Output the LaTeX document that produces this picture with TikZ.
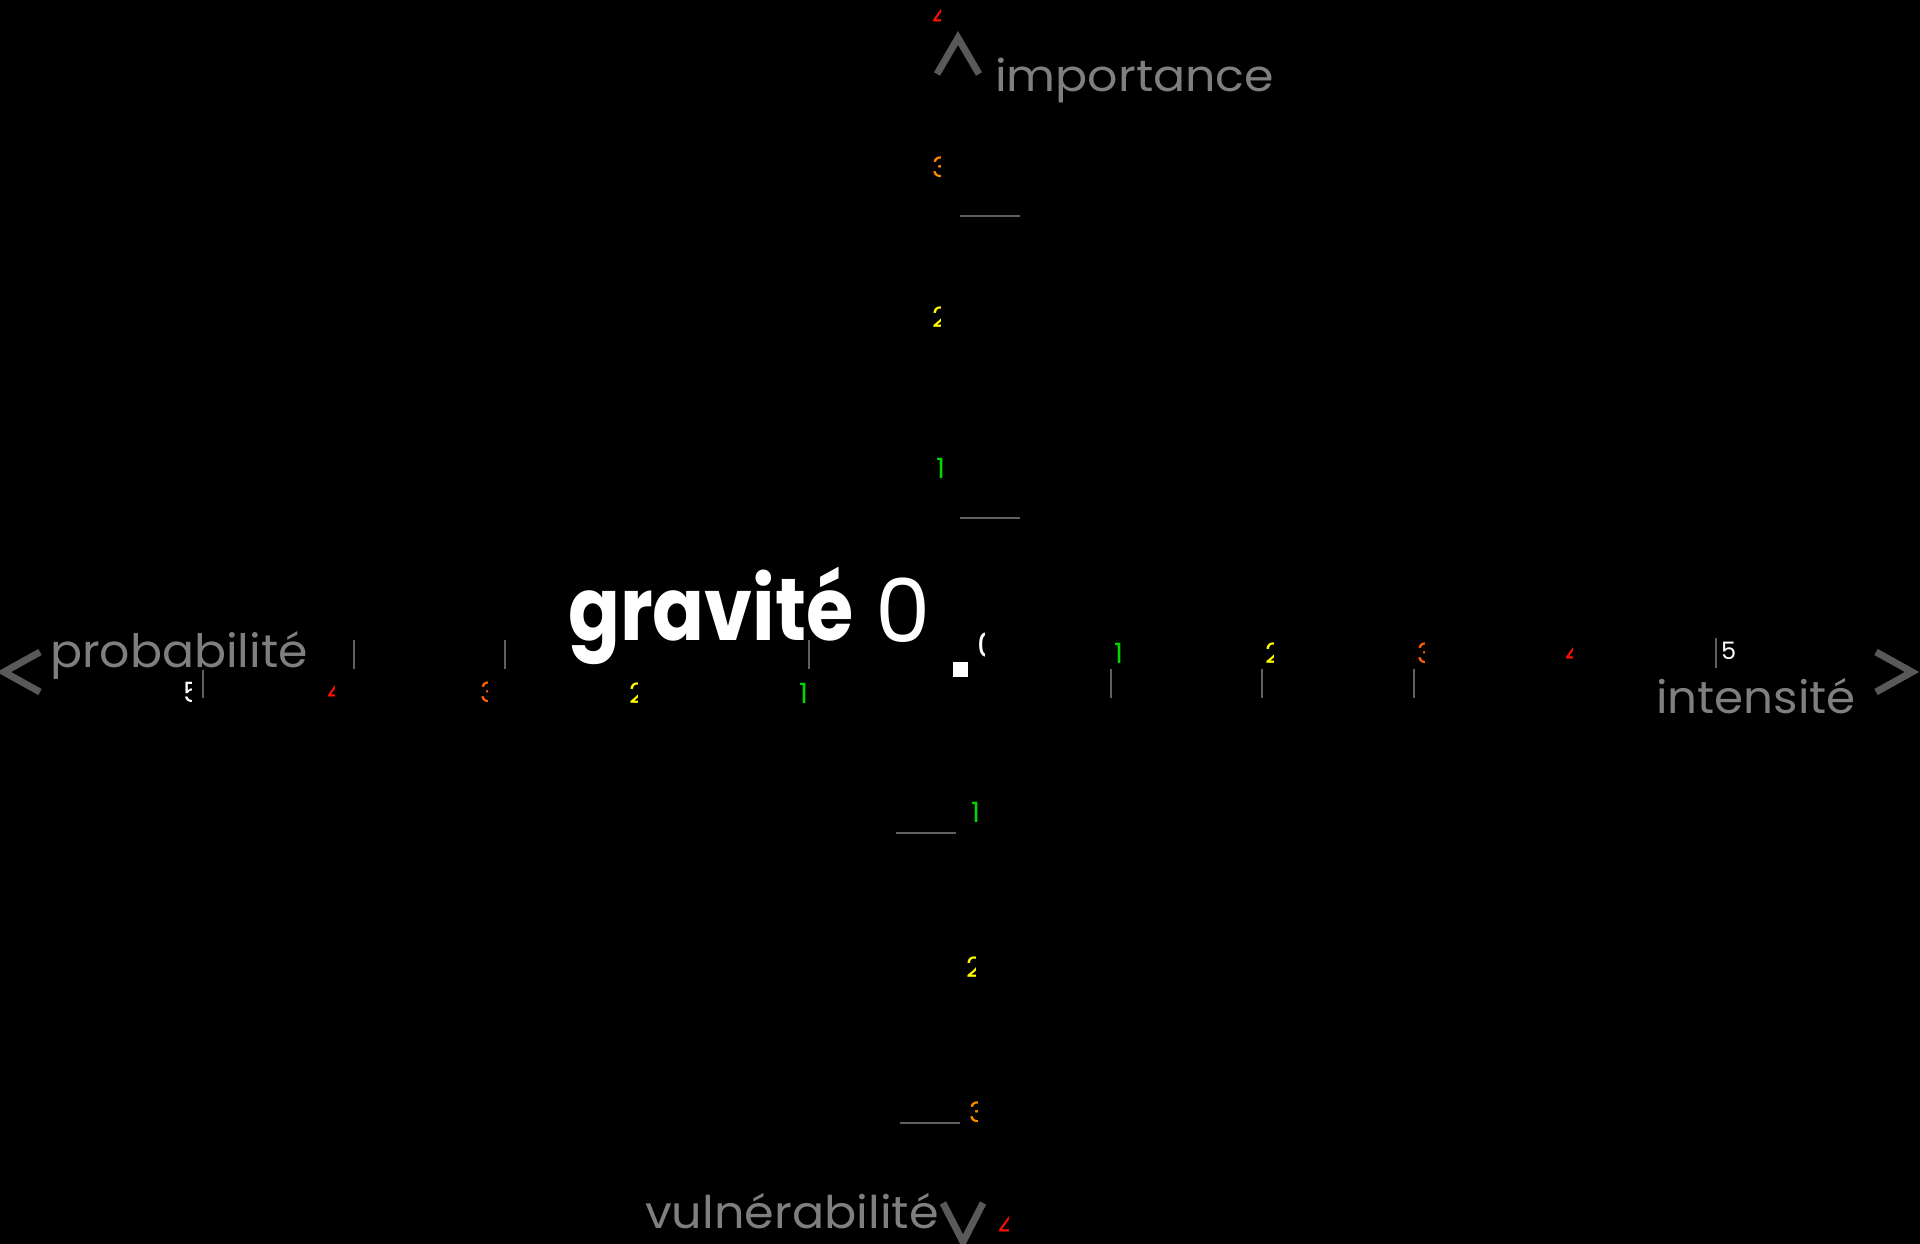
\documentclass[tikz,border=0pt]{standalone}
\usepackage{fontspec}
\setmainfont{Poppins}
\definecolor{axtext}{HTML}{7F7F7F}
\definecolor{chev}{HTML}{595959}
\definecolor{tickc}{HTML}{606060}
\definecolor{dgreen}{HTML}{00D800}
\definecolor{dyellow}{HTML}{FFFF00}
\definecolor{dorange}{HTML}{FF8C00}
\definecolor{dorred}{HTML}{FF6000}
\definecolor{dred}{HTML}{FF1000}
\newcommand\cdig[7]{%
  \begin{scope}
    \clip (#1-6,#2-40) rectangle (#3,#2+8);
    \node[digit,text=#4,anchor=base west] (#6) at (#1,#2) {\fontsize{#7}{#7}\selectfont #5};
  \end{scope}}
\tikzset{
  digit/.style={inner sep=0pt,outer sep=0pt},
  axlabel/.style={inner sep=0pt,text=axtext,anchor=base west},
  chevron/.style={draw=chev,line width=7pt,line cap=butt,line join=miter},
  tickl/.style={draw=tickc,line width=2pt}
}
\begin{document}
\begin{tikzpicture}[x=1pt,y=-1pt]
\fill[black] (0,0) rectangle (1920,1244);
\useasboundingbox (0,0) rectangle (1920,1244);
% chevrons
\coordinate (ua) at (937,74); \coordinate (ub) at (958,38); \coordinate (uc) at (979,74);
\draw[chevron] (ua) -- (ub) -- (uc);
\coordinate (la) at (40,652); \coordinate (lb) at (4,672); \coordinate (lc) at (40,692);
\draw[chevron] (la) -- (lb) -- (lc);
\coordinate (ra) at (1876,652); \coordinate (rb) at (1912,672); \coordinate (rc) at (1876,692);
\draw[chevron] (ra) -- (rb) -- (rc);
\coordinate (da) at (943,1203); \coordinate (db) at (963,1242); \coordinate (dc) at (983,1203);
\draw[chevron] (da) -- (db) -- (dc);
% axis labels
\node[axlabel,font=\fontsize{44}{52}\selectfont] (imp) at (995,92) {\scalebox{1.08}[1]{importance}};
\node[axlabel,font=\fontsize{46}{54}\selectfont] (prob) at (50,667) {\scalebox{1.03}[1]{probabilité}};
\node[axlabel,font=\fontsize{45}{52}\selectfont] (int) at (1656,713) {\scalebox{1.04}[1]{intensité}};
\node[axlabel,font=\fontsize{45}{52}\selectfont] (vul) at (645,1228) {\scalebox{1.06}[1]{vulnérabilité}};
% title
\node[inner sep=0pt,anchor=base west,text=white,font=\fontsize{88}{100}\selectfont\bfseries] (grav) at (568,640) {\scalebox{0.87}[1]{gravité}};
\node[inner sep=0pt,anchor=base west,text=white,font=\fontsize{88}{100}\selectfont] (zero) at (875,642) {0};
% centre square
\fill[white] (953,662) rectangle (968,677);
\cdig{977}{657}{984}{white}{0}{czero}{34}
% tick lines
\draw[tickl] (960,216) -- (1020,216);
\draw[tickl] (960,518) -- (1020,518);
\draw[tickl] (896,833) -- (956,833);
\draw[tickl] (900,1123) -- (960,1123);
\draw[tickl] (1111,669) -- (1111,698);
\draw[tickl] (1262,669) -- (1262,698);
\draw[tickl] (1414,669) -- (1414,698);
\draw[tickl] (1716,638) -- (1716,668);
\draw[tickl] (354,640) -- (354,669);
\draw[tickl] (505,640) -- (505,669);
\draw[tickl] (809,640) -- (809,669);
\draw[tickl] (203,670) -- (203,698);
% top digits
\cdig{932}{27}{940}{dred}{4}{t4}{28}
\cdig{932}{178}{940}{dorange}{3}{t3}{28}
\cdig{932}{327}{940}{dyellow}{2}{t2}{28}
\cdig{936}{478}{948}{dgreen}{1}{t1}{28}
% bottom digits
\cdig{971}{822}{984}{dgreen}{1}{b1}{28}
\cdig{966}{977}{975}{dyellow}{2}{b2}{28}
\cdig{969}{1122}{977}{dorange}{3}{b3}{28}
\cdig{998}{1236}{1008}{dred}{4}{b4}{28}
% right digits
\cdig{1114}{663}{1128}{dgreen}{1}{r1}{28}
\cdig{1265}{663}{1273}{dyellow}{2}{r2}{28}
\cdig{1417}{663}{1424}{dorred}{3}{r3}{28}
\cdig{1565}{663}{1572}{dred}{4}{r4}{28}
\node[digit,text=white,anchor=base west,font=\fontsize{24}{24}\selectfont] (r5) at (1721,659) {5};
% left digits
\cdig{183}{702}{191}{white}{5}{l5}{28}
\cdig{327}{701}{334}{dred}{4}{l4}{28}
\cdig{480}{702}{487}{dorred}{3}{l3}{28}
\cdig{629}{703}{637}{dyellow}{2}{l2}{28}
\cdig{799}{703}{811}{dgreen}{1}{l1}{28}
\end{tikzpicture}
\end{document}
